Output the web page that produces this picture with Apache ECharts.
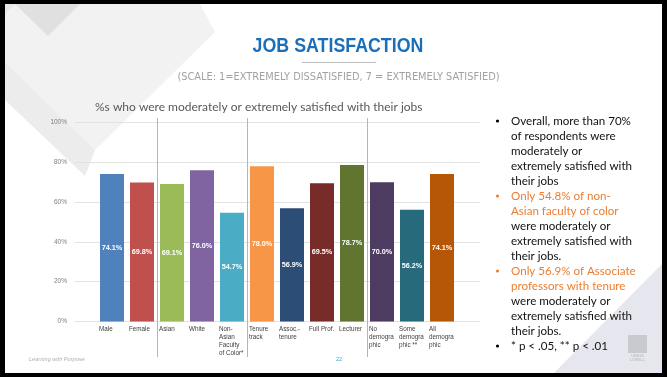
<!DOCTYPE html>
<html><head><meta charset="utf-8">
<script src="https://cdn.jsdelivr.net/npm/echarts/dist/echarts.min.js"></script>
<style>html,body{margin:0;padding:0;background:#000}#c{width:667px;height:377px}</style>
</head><body><div id="c"></div>
<script>
// ---- data ----
const categories = ['Male','Female','Asian','White','Non-\nAsian\nFaculty\nof Color*','Tenure\ntrack','Assoc.-\ntenure','Full Prof.','Lecturer','No\ndemogra\nphic','Some\ndemogra\nphic **','All\ndemogra\nphic'];
const values = [74.1, 69.8, 69.1, 76.0, 54.7, 78.0, 56.9, 69.5, 78.7, 70.0, 56.2, 74.1];
const barColors = ['#4f81bd','#c0504d','#9bbb59','#8064a2','#4bacc6','#f79646','#2c4d75','#772c2a','#5f7530','#4d3b62','#276a7c','#b65708'];
const groupEndsAfter = [1, 4, 8]; // separators after Female, Non-Asian FoC, Lecturer
const yMin = 0, yMax = 100, yStep = 20;
const titleText = 'JOB SATISFACTION';
const subtitleText = '(SCALE: 1=EXTREMELY DISSATISFIED, 7 = EXTREMELY SATISFIED)';
const chartTitle = '%s who were moderately or extremely satisfied with their jobs';
const notes = [
  {lines:['Overall, more than 70%','of respondents were','moderately or','extremely satisfied with','their jobs'], orange:0},
  {lines:['Only 54.8% of non-','Asian faculty of color','were moderately or','extremely satisfied with','their jobs.'], orange:2},
  {lines:['Only 56.9% of Associate','professors with tenure','were moderately or','extremely satisfied with','their jobs.'], orange:2},
  {lines:['* p < .05, ** p < .01'], orange:0}
];

const chart = echarts.init(document.getElementById('c'), null, {renderer:'canvas'});
const option = {
  backgroundColor: '#000',
  animation: false,
  grid: [
    {left:75, right:187, top:122.5, bottom:55.5},
    {left:97, right:210, top:122.5, bottom:55.5}
  ],
  xAxis: [
    {gridIndex:0, type:'value', show:false, min:0, max:1},
    {gridIndex:1, type:'category', data:categories,
     axisLine:{show:false}, axisTick:{show:false},
     axisLabel:{interval:0, margin:4,
       formatter: v => v.split('\n').map(s => '{a|' + s + '}').join('\n'),
       rich:{a:{width:26, align:'left', fontSize:6.3, lineHeight:7.8, color:'#404040', fontFamily:'Liberation Sans'}}}}
  ],
  yAxis: [
    {gridIndex:0, type:'value', min:yMin, max:yMax, interval:yStep,
     axisLabel:{formatter:'{value}%', fontSize:6.5, color:'#808080', margin:8, fontFamily:'Liberation Sans'},
     splitLine:{lineStyle:{color:'#e2e2e2', width:1}},
     axisLine:{show:false}, axisTick:{show:false}},
    {gridIndex:1, type:'value', min:yMin, max:yMax, show:false}
  ],
  series: [{
    type:'bar', xAxisIndex:1, yAxisIndex:1,
    barCategoryGap:'20%',
    data: values.map((v,i) => ({value:v, itemStyle:{color:barColors[i]}})),
    label:{show:true, position:'inside', formatter: p => p.value.toFixed(1) + '%',
      color:'#fff', fontWeight:'bold', fontSize:7.3, fontFamily:'Liberation Sans'}
  }]
};
chart.setOption(option);

// ---- decorations & text ----
const els = [];
els.push({type:'rect', z:-100, shape:{x:5,y:4,width:657,height:369}, style:{fill:'#fff'}});
// top-left soft diamonds
els.push({type:'polygon', z:-95, shape:{points:[[5,4],[200,4],[215,32],[95,150],[5,62]]}, style:{fill:'#f2f2f2'}});
els.push({type:'polygon', z:-94, shape:{points:[[5,62],[95,150],[85,176],[5,100]]}, style:{fill:'#ececec'}});
els.push({type:'polygon', z:-93, shape:{points:[[15,4],[80,4],[48,36]]}, style:{fill:'#e0e0e0'}});
els.push({type:'polygon', z:-93, shape:{points:[[5,4],[15,4],[5,14]]}, style:{fill:'#e8e8e8'}});
// bottom-right triangle
els.push({type:'polygon', z:-95, shape:{points:[[662,264],[662,373],[554,373]]}, style:{fill:'#e6e7ee'}});
// logo
els.push({type:'rect', z:-90, shape:{x:628,y:335,width:19,height:18}, style:{fill:'#c9cacf'}});
els.push({type:'text', z:-90, x:637.5, y:358, style:{text:'UMASS\nLOWELL', fontSize:3.5, lineHeight:4, fill:'#c2c3c8', align:'center', verticalAlign:'middle', fontFamily:'Liberation Sans', fontWeight:'bold'}});
// titles
els.push({type:'text', x:338, y:46, scaleX:0.89, style:{text:titleText, fontSize:20, fontWeight:'bold', fill:'#1b6fb8', align:'center', verticalAlign:'middle', fontFamily:'Liberation Sans'}});
els.push({type:'line', shape:{x1:302,y1:62.5,x2:376,y2:62.5}, style:{stroke:'#bdbdbd', lineWidth:1}});
els.push({type:'text', x:338.5, y:77, style:{text:subtitleText, fontSize:9.8, fill:'#a2a2a2', align:'center', verticalAlign:'middle', fontFamily:'DejaVu Sans'}});
els.push({type:'text', x:95, y:107, style:{text:chartTitle, fontSize:12, fill:'#595959', align:'left', verticalAlign:'middle', fontFamily:'Lato, Noto Sans'}});
// footer
els.push({type:'text', x:29, y:359, style:{text:'Learning with Purpose', fontSize:5.6, fontStyle:'italic', fill:'#b0b0b0', align:'left', verticalAlign:'middle', fontFamily:'Liberation Sans'}});
els.push({type:'text', x:339, y:359, style:{text:'22', fontSize:5.6, fill:'#35aee6', align:'center', verticalAlign:'middle', fontFamily:'Liberation Sans'}});
// notes
let ly = 121;
notes.forEach(n => {
  els.push({type:'circle', shape:{cx:497.5, cy:ly, r:1.6}, style:{fill: n.orange ? '#ed7d31' : '#000'}});
  n.lines.forEach((t, k) => {
    els.push({type:'text', x:511, y:ly, style:{text:t, fontSize:11.6, fill: k < n.orange ? '#ed7d31' : '#111', align:'left', verticalAlign:'middle', fontFamily:'Lato, Noto Sans'}});
    ly += 15;
  });
});
// separators between groups
groupEndsAfter.forEach(i => {
  const a = chart.convertToPixel({xAxisIndex:1}, i);
  const b = chart.convertToPixel({xAxisIndex:1}, i + 1);
  const x = Math.round((a + b) / 2) + 0.5;
  els.push({type:'line', shape:{x1:x, y1:118, x2:x, y2:357}, style:{stroke:'#b5b5b5', lineWidth:1}});
});
chart.setOption({graphic:{elements:els}});
</script></body></html>
